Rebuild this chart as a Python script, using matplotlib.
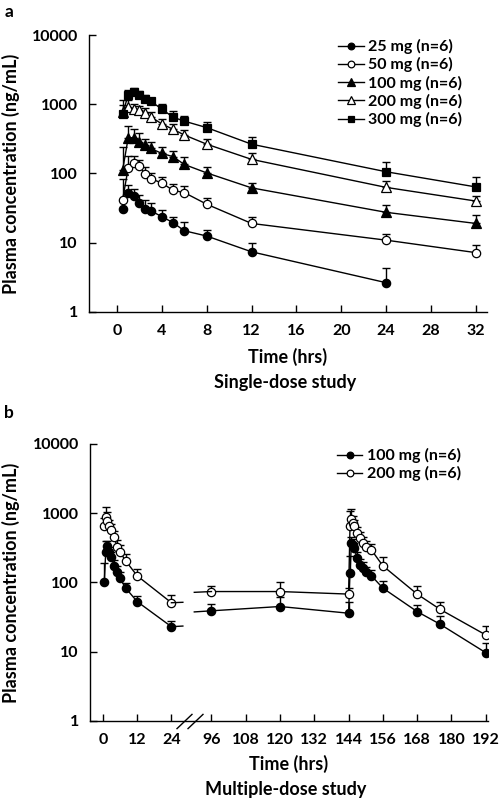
import numpy as np
import matplotlib
matplotlib.use("Agg")
import matplotlib.pyplot as plt
from matplotlib.transforms import blended_transform_factory

plt.rcParams['font.family'] = ['Lato', 'DejaVu Sans']
plt.rcParams['font.weight'] = 'bold'
plt.rcParams['axes.labelweight'] = 'bold'

# ---- single-dose study (panel a) ----
t_single = [0.5, 1, 1.5, 2, 2.5, 3, 4, 5, 6, 8, 12, 24, 32]
c25 = [31, 52, 47, 38, 31, 29, 23.8, 19.5, 14.9, 12.5, 7.4, 2.65, np.nan]
sd25 = [12, 16, 12, 11, 10, 9, 6, 4, 5, 3, 2.4, 1.7, np.nan]
c50 = [42, 121, 144, 129, 98, 84, 73, 57, 53, 36, 19, 10.9, 7.2]
sd50 = [40, 60, 35, 30, 25, 18, 17, 14, 14, 9, 4.3, 2.5, 2.0]
c100 = [112, 330, 327, 287, 256, 230, 195, 175, 135, 102, 62, 27.5, 19]
sd100 = [128, 150, 118, 100, 64, 57, 45, 37, 40, 23, 12, 7.5, 6.5]
c200 = [780, 910, 850, 820, 750, 660, 520, 435, 360, 265, 160, 63, 40]
sd200 = [200, 250, 150, 130, 120, 110, 100, 90, 70, 50, 40, 14, 8]
c300 = [720, 1380, 1490, 1350, 1190, 1110, 850, 650, 570, 460, 265, 106, 64]
sd300 = [450, 250, 250, 200, 150, 130, 150, 140, 110, 90, 75, 41, 25]

# ---- multiple-dose study (panel b) ----
t_day1 = [0.5, 1, 1.5, 2, 3, 4, 5, 6, 8, 12, 24]
m100_day1 = [100, 275, 340, 280, 233, 175, 144, 115, 83, 53, 23]
m100_day1_sd = [94, 125, 60, 50, 40, 35, 30, 25, 15, 10, 5]
m200_day1 = [665, 890, 780, 660, 575, 450, 325, 275, 205, 125, 51]
m200_day1_sd = [200, 340, 250, 150, 130, 110, 90, 75, 50, 32, 16]

t_later = [96, 120, 144, 144.5, 145, 145.5, 146, 147, 148, 149, 150, 152, 156, 168, 176, 192]
m100_later = [39, 45, 36, 139, 370, 350, 315, 225, 180, 160, 140, 125, 83, 38, 25, 9.7]
m100_later_sd = [10, 16, 17, 100, 80, 70, 60, 50, 40, 35, 30, 25, 22, 9, 8, 3.8]
m200_later = [74, 74, 68, 645, 820, 720, 660, 515, 435, 370, 330, 295, 174, 68, 41, 17.5]
m200_later_sd = [15, 26, 16, 450, 320, 200, 150, 120, 100, 80, 70, 65, 58, 21, 12, 6]

x_ticks_a = [0, 4, 8, 12, 16, 20, 24, 28, 32]
x_ticks_b = [0, 12, 24, 96, 108, 120, 132, 144, 156, 168, 180, 192]
y_ticks = [1, 10, 100, 1000, 10000]

BREAK_SHIFT = 58  # hours removed between 24 and 96 on the broken axis


def squash(t):
    t = np.asarray(t, dtype=float)
    return np.where(t > 24, t - BREAK_SHIFT, t)


def series(ax, t, c, sd, marker, filled, ms, label=None):
    c = np.asarray(c, dtype=float)
    sd = np.asarray(sd, dtype=float)
    ax.errorbar(t, c, yerr=[np.zeros_like(sd), sd], fmt='none', ecolor='black',
                elinewidth=1.0, capsize=3.2, capthick=1.0, zorder=2)
    ax.plot(t, c, color='black', lw=1.0, marker=marker, ms=ms,
            mfc='black' if filled else 'white', mec='black', mew=0.9,
            label=label, zorder=3)


def style(ax, xlim, xticks, xlabels):
    ax.set_yscale('log')
    ax.set_ylim(1, 10000)
    ax.set_xlim(*xlim)
    ax.set_yticks(y_ticks)
    ax.set_yticklabels([str(v) for v in y_ticks], fontweight='bold', fontsize=11.5)
    ax.yaxis.set_minor_locator(matplotlib.ticker.NullLocator())
    ax.set_xticks(xticks)
    ax.set_xticklabels(xlabels, fontweight='bold', fontsize=11.5)
    for s in ['top', 'right']:
        ax.spines[s].set_visible(False)
    for s in ['left', 'bottom']:
        ax.spines[s].set_linewidth(1.0)
    ax.tick_params(axis='both', direction='in', length=5, width=1.0)
    ax.tick_params(axis='y', pad=8)
    ax.tick_params(axis='x', pad=9)


fig = plt.figure(figsize=(5.0, 8.01), dpi=100)

# panel a
ax1 = fig.add_axes([0.178, 0.6105, 0.796, 0.3458])
series(ax1, t_single, c25, sd25, 'o', True, 6, '25 mg (n=6)')
series(ax1, t_single, c50, sd50, 'o', False, 6, '50 mg (n=6)')
series(ax1, t_single, c100, sd100, '^', True, 6.5, '100 mg (n=6)')
series(ax1, t_single, c200, sd200, '^', False, 6.5, '200 mg (n=6)')
series(ax1, t_single, c300, sd300, 's', True, 6, '300 mg (n=6)')
style(ax1, (-2.5, 33), x_ticks_a, [str(v) for v in x_ticks_a])
ax1.set_xlabel('Time (hrs)', fontsize=13, fontweight='bold', labelpad=7)
ax1.legend(loc='upper left', bbox_to_anchor=(0.626, 0.985), frameon=False,
           prop={'size': 11.5, 'weight': 'bold'}, handlelength=1.6, handletextpad=0.3,
           labelspacing=0.2, borderpad=0, borderaxespad=0, markerscale=0.8)

# panel b
ax2 = fig.add_axes([0.18, 0.0999, 0.796, 0.3458])
for c1, s1, c2, s2, filled, lab in [
        (m100_day1, m100_day1_sd, m100_later, m100_later_sd, True, '100 mg (n=6)'),
        (m200_day1, m200_day1_sd, m200_later, m200_later_sd, False, '200 mg (n=6)')]:
    series(ax2, squash(t_day1), c1, s1, 'o', filled, 6, lab)
    series(ax2, squash(t_later), c2, s2, 'o', filled, 6)
    # short line stubs at the axis break
    a, b = np.log10(c1[-1]), np.log10(c2[0])
    x24, x96 = 24, 96 - BREAK_SHIFT
    ax2.plot([x24, x24 + 4], [c1[-1], 10 ** (a + (b - a) * 0.04)], color='black', lw=1.0, zorder=3)
    ax2.plot([x96 - 6, x96], [10 ** (b + (a - b) * 0.07), c2[0]], color='black', lw=1.0, zorder=3)
style(ax2, (-4.5, 134.8), squash(x_ticks_b), [str(v) for v in x_ticks_b])
ax2.set_xlabel('Time (hrs)', fontsize=13, fontweight='bold', labelpad=5)
ax2.legend(loc='upper left', bbox_to_anchor=(0.62, 0.985), frameon=False,
           prop={'size': 11.5, 'weight': 'bold'}, handlelength=1.6, handletextpad=0.3,
           labelspacing=0.2, borderpad=0, borderaxespad=0, markerscale=0.8)

# break marks on the x axis
trans = blended_transform_factory(ax2.transData, ax2.transAxes)
for xb in [28.4, 32.3]:
    ax2.plot([xb], [0], transform=trans, marker=[(-1, -0.95), (1, 0.95)],
             ms=11.5, mec='black', mew=1.0, clip_on=False, zorder=5)

# titles, axis labels, panel letters
for ax, top_px, bottom_px in [(ax1, 35, 312), (ax2, 444, 721)]:
    yc = 1 - (top_px + bottom_px) / 2 / 801
    fig.text(0.022, yc, 'Plasma concentration (ng/mL)', rotation=90,
             ha='center', va='center', fontsize=13, fontweight='bold')
fig.text(0.57, 1 - 382 / 801, 'Single-dose study', ha='center', va='center',
         fontsize=13, fontweight='bold')
fig.text(0.572, 1 - 790 / 801, 'Multiple-dose study', ha='center', va='center',
         fontsize=13, fontweight='bold')
fig.text(0.018, 1 - 12 / 801, 'a', ha='center', va='center', fontsize=12.5, fontweight='bold')
fig.text(0.018, 1 - 413 / 801, 'b', ha='center', va='center', fontsize=12.5, fontweight='bold')

fig.savefig('out.png', dpi=100)
